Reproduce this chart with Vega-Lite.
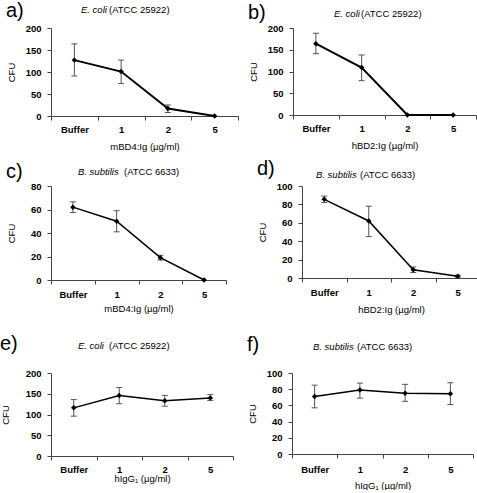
{
  "$schema": "https://vega.github.io/schema/vega-lite/v6.json",
  "padding": {"left": 0, "top": 0, "right": 0, "bottom": 0},
  "background": "white",
  "datasets": {
    "a": [
      {"dose": "Buffer", "cfu": 127, "lo": 91, "hi": 164},
      {"dose": "1", "cfu": 101, "lo": 74, "hi": 127},
      {"dose": "2", "cfu": 17, "lo": 8, "hi": 25},
      {"dose": "5", "cfu": 0}
    ],
    "b": [
      {"dose": "Buffer", "cfu": 164, "lo": 141, "hi": 188},
      {"dose": "1", "cfu": 109, "lo": 79, "hi": 138},
      {"dose": "2", "cfu": 0},
      {"dose": "5", "cfu": 0}
    ],
    "c": [
      {"dose": "Buffer", "cfu": 62, "lo": 57.5, "hi": 66.5},
      {"dose": "1", "cfu": 50, "lo": 41, "hi": 59},
      {"dose": "2", "cfu": 19, "lo": 17, "hi": 21},
      {"dose": "5", "cfu": 0}
    ],
    "d": [
      {"dose": "Buffer", "cfu": 85.5, "lo": 82, "hi": 89},
      {"dose": "1", "cfu": 62, "lo": 45, "hi": 78},
      {"dose": "2", "cfu": 9, "lo": 6, "hi": 12},
      {"dose": "5", "cfu": 2, "lo": 1, "hi": 3}
    ],
    "e": [
      {"dose": "Buffer", "cfu": 116, "lo": 96, "hi": 136},
      {"dose": "1", "cfu": 146, "lo": 126, "hi": 165},
      {"dose": "2", "cfu": 133, "lo": 120, "hi": 146},
      {"dose": "5", "cfu": 140, "lo": 134, "hi": 148}
    ],
    "f": [
      {"dose": "Buffer", "cfu": 71, "lo": 57, "hi": 85},
      {"dose": "1", "cfu": 79, "lo": 69, "hi": 87.5},
      {"dose": "2", "cfu": 75, "lo": 65, "hi": 86},
      {"dose": "5", "cfu": 74.5, "lo": 61, "hi": 88}
    ]
  },
  "vconcat": [
    {
      "hconcat": [
        {
          "title": {"text": "a)", "anchor": "start", "frame": "bounds", "fontSize": 20, "fontStyle": "normal", "offset": -16},
          "vconcat": [{
            "title": {"text": "(ATCC 25922)", "anchor": "start", "frame": "bounds", "fontStyle": "normal", "offset": -9.5, "dx": 103},
            "vconcat": [{
              "width": 187, "height": 88,
              "data": {"name": "a"},
              "title": {"text": "E. coli", "dx": 30, "offset": 9},
              "encoding": {"x": {"field": "dose", "type": "ordinal", "sort": ["Buffer", "1", "2", "5"], "scale": {"type": "band", "paddingInner": 0, "paddingOuter": 0}, "axis": {"title": "mBD4:Ig (µg/ml)", "titlePadding": 8, "labelPadding": 4}}},
              "layer": [
                {"mark": {"type": "rule", "color": "#555", "strokeWidth": 1}, "encoding": {"y": {"field": "lo", "type": "quantitative", "scale": {"domain": [0, 200], "nice": false}, "axis": {"title": "CFU", "values": [0, 50, 100, 150, 200]}}, "y2": {"field": "hi"}}},
                {"mark": {"type": "tick", "color": "#555", "size": 6, "thickness": 1, "opacity": 1}, "encoding": {"y": {"field": "lo", "type": "quantitative", "axis": {"title": "CFU", "values": [0, 50, 100, 150, 200]}}}},
                {"mark": {"type": "tick", "color": "#555", "size": 6, "thickness": 1, "opacity": 1}, "encoding": {"y": {"field": "hi", "type": "quantitative", "axis": {"title": "CFU", "values": [0, 50, 100, 150, 200]}}}},
                {"mark": {"type": "line", "color": "black", "strokeWidth": 2}, "encoding": {"y": {"field": "cfu", "type": "quantitative", "axis": {"title": "CFU", "values": [0, 50, 100, 150, 200]}}}},
                {"mark": {"type": "point", "shape": "diamond", "filled": true, "color": "black", "size": 30, "opacity": 1}, "encoding": {"y": {"field": "cfu", "type": "quantitative", "axis": {"title": "CFU", "values": [0, 50, 100, 150, 200]}}}}
              ]
            }]
          }]
        },
        {
          "title": {"text": "b)", "anchor": "start", "frame": "bounds", "fontSize": 20, "fontStyle": "normal", "offset": -14.5},
          "vconcat": [{
            "title": {"text": "(ATCC 25922)", "anchor": "start", "frame": "bounds", "fontStyle": "normal", "offset": -9.5, "dx": 113},
            "vconcat": [{
              "width": 183, "height": 87,
              "data": {"name": "b"},
              "title": {"text": "E. coli", "dx": 41, "offset": 5},
              "encoding": {"x": {"field": "dose", "type": "ordinal", "sort": ["Buffer", "1", "2", "5"], "scale": {"type": "band", "paddingInner": 0, "paddingOuter": 0}, "axis": {"title": "hBD2:Ig (µg/ml)", "titlePadding": 8, "labelPadding": 4}}},
              "layer": [
                {"mark": {"type": "rule", "color": "#555", "strokeWidth": 1}, "encoding": {"y": {"field": "lo", "type": "quantitative", "scale": {"domain": [0, 200], "nice": false}, "axis": {"title": "CFU", "values": [0, 50, 100, 150, 200]}}, "y2": {"field": "hi"}}},
                {"mark": {"type": "tick", "color": "#555", "size": 6, "thickness": 1, "opacity": 1}, "encoding": {"y": {"field": "lo", "type": "quantitative", "axis": {"title": "CFU", "values": [0, 50, 100, 150, 200]}}}},
                {"mark": {"type": "tick", "color": "#555", "size": 6, "thickness": 1, "opacity": 1}, "encoding": {"y": {"field": "hi", "type": "quantitative", "axis": {"title": "CFU", "values": [0, 50, 100, 150, 200]}}}},
                {"mark": {"type": "line", "color": "black", "strokeWidth": 2}, "encoding": {"y": {"field": "cfu", "type": "quantitative", "axis": {"title": "CFU", "values": [0, 50, 100, 150, 200]}}}},
                {"mark": {"type": "point", "shape": "diamond", "filled": true, "color": "black", "size": 30, "opacity": 1}, "encoding": {"y": {"field": "cfu", "type": "quantitative", "axis": {"title": "CFU", "values": [0, 50, 100, 150, 200]}}}}
              ]
            }]
          }]
        }
      ],
      "spacing": 9
    },
    {
      "vconcat": [
        {
          "hconcat": [
            {
              "title": {"text": "c)", "anchor": "start", "frame": "bounds", "fontSize": 20, "fontStyle": "normal", "offset": -15},
              "vconcat": [{
                "title": {"text": "(ATCC 6633)", "anchor": "start", "frame": "bounds", "fontStyle": "normal", "offset": -9.5, "dx": 118},
                "vconcat": [{
                  "width": 175, "height": 94,
                  "data": {"name": "c"},
                  "title": {"text": "B. subtilis", "dx": 27, "offset": 5},
                  "encoding": {"x": {"field": "dose", "type": "ordinal", "sort": ["Buffer", "1", "2", "5"], "scale": {"type": "band", "paddingInner": 0, "paddingOuter": 0}, "axis": {"title": "mBD4:Ig (µg/ml)", "titlePadding": 5, "labelPadding": 5}}},
                  "layer": [
                    {"mark": {"type": "rule", "color": "#555", "strokeWidth": 1}, "encoding": {"y": {"field": "lo", "type": "quantitative", "scale": {"domain": [0, 80], "nice": false}, "axis": {"title": "CFU", "values": [0, 20, 40, 60, 80]}}, "y2": {"field": "hi"}}},
                    {"mark": {"type": "tick", "color": "#555", "size": 6, "thickness": 1, "opacity": 1}, "encoding": {"y": {"field": "lo", "type": "quantitative", "axis": {"title": "CFU", "values": [0, 20, 40, 60, 80]}}}},
                    {"mark": {"type": "tick", "color": "#555", "size": 6, "thickness": 1, "opacity": 1}, "encoding": {"y": {"field": "hi", "type": "quantitative", "axis": {"title": "CFU", "values": [0, 20, 40, 60, 80]}}}},
                    {"mark": {"type": "line", "color": "black", "strokeWidth": 1.5}, "encoding": {"y": {"field": "cfu", "type": "quantitative", "axis": {"title": "CFU", "values": [0, 20, 40, 60, 80]}}}},
                    {"mark": {"type": "point", "shape": "diamond", "filled": true, "color": "black", "size": 30, "opacity": 1}, "encoding": {"y": {"field": "cfu", "type": "quantitative", "axis": {"title": "CFU", "values": [0, 20, 40, 60, 80]}}}}
                  ]
                }]
              }]
            },
            {
              "title": {"text": "d)", "anchor": "start", "frame": "bounds", "fontSize": 20, "fontStyle": "normal", "offset": -9},
              "vconcat": [{
                "title": {"text": "(ATCC 6633)", "anchor": "start", "frame": "bounds", "fontStyle": "normal", "offset": -9.5, "dx": 103},
                "vconcat": [{
                  "width": 178, "height": 92,
                  "data": {"name": "d"},
                  "title": {"text": "B. subtilis", "dx": 14, "offset": 1.5},
                  "encoding": {"x": {"field": "dose", "type": "ordinal", "sort": ["Buffer", "1", "2", "5"], "scale": {"type": "band", "paddingInner": 0, "paddingOuter": 0}, "axis": {"title": "hBD2:Ig (µg/ml)", "titlePadding": 8, "labelPadding": 5}}},
                  "layer": [
                    {"mark": {"type": "rule", "color": "#555", "strokeWidth": 1}, "encoding": {"y": {"field": "lo", "type": "quantitative", "scale": {"domain": [0, 100], "nice": false}, "axis": {"title": "CFU", "values": [0, 20, 40, 60, 80, 100]}}, "y2": {"field": "hi"}}},
                    {"mark": {"type": "tick", "color": "#555", "size": 6, "thickness": 1, "opacity": 1}, "encoding": {"y": {"field": "lo", "type": "quantitative", "axis": {"title": "CFU", "values": [0, 20, 40, 60, 80, 100]}}}},
                    {"mark": {"type": "tick", "color": "#555", "size": 6, "thickness": 1, "opacity": 1}, "encoding": {"y": {"field": "hi", "type": "quantitative", "axis": {"title": "CFU", "values": [0, 20, 40, 60, 80, 100]}}}},
                    {"mark": {"type": "line", "color": "black", "strokeWidth": 1.5}, "encoding": {"y": {"field": "cfu", "type": "quantitative", "axis": {"title": "CFU", "values": [0, 20, 40, 60, 80, 100]}}}},
                    {"mark": {"type": "point", "shape": "diamond", "filled": true, "color": "black", "size": 30, "opacity": 1}, "encoding": {"y": {"field": "cfu", "type": "quantitative", "axis": {"title": "CFU", "values": [0, 20, 40, 60, 80, 100]}}}}
                  ]
                }]
              }]
            }
          ],
          "spacing": 30
        },
        {
          "hconcat": [
            {
              "title": {"text": "e)", "anchor": "start", "frame": "bounds", "fontSize": 20, "fontStyle": "normal", "offset": -13.5},
              "vconcat": [{
                "title": {"text": "(ATCC 25922)", "anchor": "start", "frame": "bounds", "fontStyle": "normal", "offset": -9.5, "dx": 109},
                "vconcat": [{
                  "width": 182, "height": 83,
                  "data": {"name": "e"},
                  "title": {"text": "E. coli", "dx": 27, "offset": 18},
                  "encoding": {"x": {"field": "dose", "type": "ordinal", "sort": ["Buffer", "1", "2", "5"], "scale": {"type": "band", "paddingInner": 0, "paddingOuter": 0}, "axis": {"title": "hIgG₁ (µg/ml)", "titlePadding": 0, "labelPadding": 4}}},
                  "layer": [
                    {"mark": {"type": "rule", "color": "#555", "strokeWidth": 1}, "encoding": {"y": {"field": "lo", "type": "quantitative", "scale": {"domain": [0, 200], "nice": false}, "axis": {"title": "CFU", "values": [0, 50, 100, 150, 200], "titlePadding": 14}}, "y2": {"field": "hi"}}},
                    {"mark": {"type": "tick", "color": "#555", "size": 6, "thickness": 1, "opacity": 1}, "encoding": {"y": {"field": "lo", "type": "quantitative", "axis": {"title": "CFU", "values": [0, 50, 100, 150, 200], "titlePadding": 14}}}},
                    {"mark": {"type": "tick", "color": "#555", "size": 6, "thickness": 1, "opacity": 1}, "encoding": {"y": {"field": "hi", "type": "quantitative", "axis": {"title": "CFU", "values": [0, 50, 100, 150, 200], "titlePadding": 14}}}},
                    {"mark": {"type": "line", "color": "black", "strokeWidth": 1.5}, "encoding": {"y": {"field": "cfu", "type": "quantitative", "axis": {"title": "CFU", "values": [0, 50, 100, 150, 200], "titlePadding": 14}}}},
                    {"mark": {"type": "point", "shape": "diamond", "filled": true, "color": "black", "size": 30, "opacity": 1}, "encoding": {"y": {"field": "cfu", "type": "quantitative", "axis": {"title": "CFU", "values": [0, 50, 100, 150, 200], "titlePadding": 14}}}}
                  ]
                }]
              }]
            },
            {
              "title": {"text": "f)", "anchor": "start", "frame": "bounds", "fontSize": 20, "fontStyle": "normal", "offset": -13},
              "vconcat": [{
                "title": {"text": "(ATCC 6633)", "anchor": "start", "frame": "bounds", "fontStyle": "normal", "offset": -9.5, "dx": 110},
                "vconcat": [{
                  "width": 181, "height": 81,
                  "data": {"name": "f"},
                  "title": {"text": "B. subtilis", "dx": 21, "offset": 16.5},
                  "encoding": {"x": {"field": "dose", "type": "ordinal", "sort": ["Buffer", "1", "2", "5"], "scale": {"type": "band", "paddingInner": 0, "paddingOuter": 0}, "axis": {"title": "hIgG₁ (µg/ml)", "titlePadding": 7, "labelPadding": 6}}},
                  "layer": [
                    {"mark": {"type": "rule", "color": "#555", "strokeWidth": 1}, "encoding": {"y": {"field": "lo", "type": "quantitative", "scale": {"domain": [0, 100], "nice": false}, "axis": {"title": "CFU", "values": [0, 20, 40, 60, 80, 100]}}, "y2": {"field": "hi"}}},
                    {"mark": {"type": "tick", "color": "#555", "size": 6, "thickness": 1, "opacity": 1}, "encoding": {"y": {"field": "lo", "type": "quantitative", "axis": {"title": "CFU", "values": [0, 20, 40, 60, 80, 100]}}}},
                    {"mark": {"type": "tick", "color": "#555", "size": 6, "thickness": 1, "opacity": 1}, "encoding": {"y": {"field": "hi", "type": "quantitative", "axis": {"title": "CFU", "values": [0, 20, 40, 60, 80, 100]}}}},
                    {"mark": {"type": "line", "color": "black", "strokeWidth": 1.5}, "encoding": {"y": {"field": "cfu", "type": "quantitative", "axis": {"title": "CFU", "values": [0, 20, 40, 60, 80, 100]}}}},
                    {"mark": {"type": "point", "shape": "diamond", "filled": true, "color": "black", "size": 30, "opacity": 1}, "encoding": {"y": {"field": "cfu", "type": "quantitative", "axis": {"title": "CFU", "values": [0, 20, 40, 60, 80, 100]}}}}
                  ]
                }]
              }]
            }
          ],
          "spacing": 13
        }
      ],
      "spacing": 20
    }
  ],
  "spacing": 8,
  "config": {
    "font": "Liberation Sans",
    "view": {"stroke": null},
    "axis": {
      "grid": false,
      "domainColor": "#444",
      "tickColor": "#444",
      "labelColor": "black",
      "titleColor": "black",
      "labelFont": "Liberation Sans",
      "titleFont": "Liberation Sans",
      "labelFontSize": 9.5,
      "labelFontWeight": "bold",
      "titleFontSize": 9.5,
      "titleFontWeight": "normal",
      "labelOverlap": false,
      "tickSize": 4
    },
    "axisY": {"labelPadding": 6, "titlePadding": 8, "minExtent": 27},
    "axisX": {"labelAngle": 0, "tickBand": "extent"},
    "title": {
      "font": "Liberation Sans",
      "fontSize": 9.5,
      "fontWeight": "normal",
      "fontStyle": "italic",
      "color": "black",
      "anchor": "start",
      "frame": "group",
      "align": "left"
    }
  }
}
